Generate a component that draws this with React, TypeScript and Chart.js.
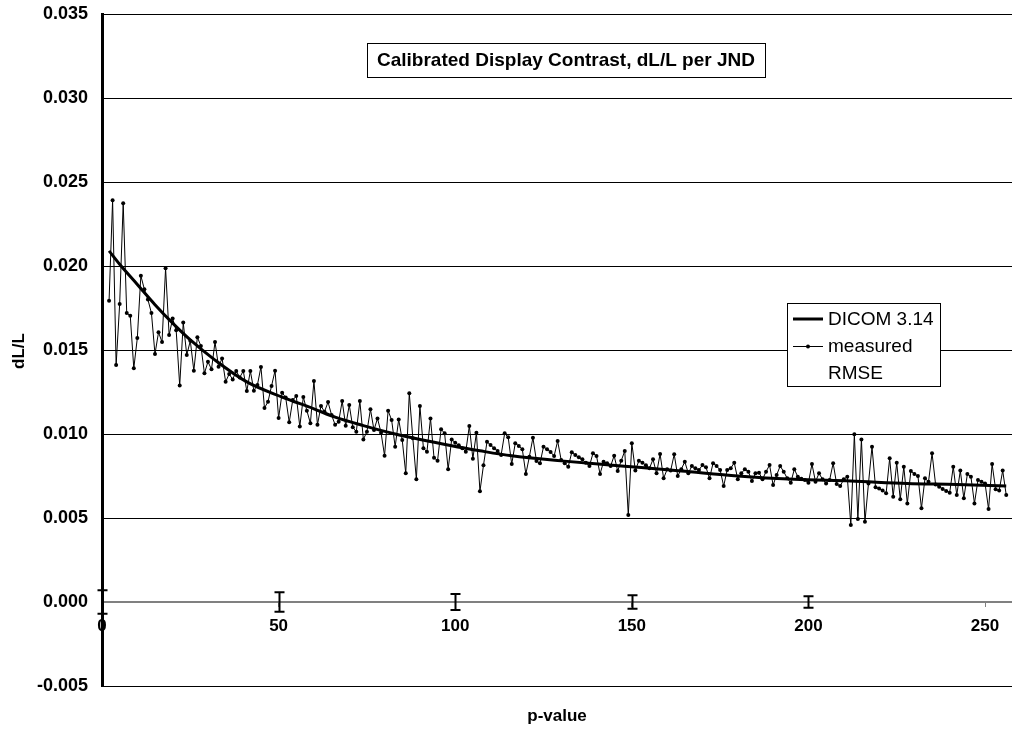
import React, { useEffect, useRef } from "react";
import { Chart, registerables } from "chart.js";

Chart.register(...registerables);

const FONT = "'Liberation Sans', Arial, Helvetica, sans-serif";

const titleText = "Calibrated Display Contrast, dL/L per JND";
const xTitle = "p-value";
const yTitle = "dL/L";
const seriesNames = ["DICOM 3.14", "measured", "RMSE"];

const xTickValues = [0, 50, 100, 150, 200, 250];
const yTickValues = [-0.005, 0, 0.005, 0.01, 0.015, 0.02, 0.025, 0.03, 0.035];

// measured dL/L, one value per p-value starting at p = 2
const measuredStartP = 2;
const measuredValues = [
  0.01793, 0.02391, 0.01411, 0.01774, 0.02373, 0.0172, 0.01704, 0.01391, 0.01571, 0.01942,
  0.01861, 0.018, 0.0172, 0.01476, 0.01605, 0.01548, 0.01986, 0.01589, 0.01687, 0.01617,
  0.01288, 0.01663, 0.0147, 0.01555, 0.01377, 0.01576, 0.01524, 0.01361, 0.0143, 0.01385,
  0.01548, 0.014,
  0.0145, 0.01311, 0.01357, 0.01325, 0.01375, 0.01337, 0.01375, 0.01256,
  0.01375, 0.01258, 0.01292, 0.01399, 0.01155, 0.01192, 0.01286, 0.01377, 0.01095, 0.01246,
  0.01218, 0.0107, 0.01202, 0.01226, 0.01044, 0.0122, 0.01139, 0.01064, 0.01315, 0.01055,
  0.01167, 0.01133, 0.0119, 0.01113, 0.01055,
  0.01073, 0.01196, 0.01049, 0.01173, 0.0104, 0.01014, 0.01196, 0.00968, 0.01014, 0.01147,
  0.01024, 0.01093, 0.01008, 0.00871, 0.01139, 0.01083, 0.00924, 0.01087, 0.00964, 0.00766,
  0.01242, 0.00974, 0.0073, 0.01167, 0.00915, 0.00895, 0.01093, 0.00859, 0.00841, 0.01028,
  0.01004, 0.0079,
  0.00968, 0.00948, 0.00933, 0.00915, 0.00895, 0.01048, 0.00853, 0.01008, 0.00659, 0.00814,
  0.00954, 0.00934, 0.00915, 0.00899, 0.00875, 0.01004, 0.0098, 0.00821, 0.00945, 0.00929,
  0.00909, 0.00762, 0.00865, 0.00978, 0.00839, 0.00826, 0.00924, 0.00909, 0.00893, 0.00869,
  0.00958, 0.00845, 0.00826,
  0.00805, 0.00891, 0.00875, 0.00861, 0.00849, 0.00829, 0.00809, 0.00885, 0.00869, 0.00762,
  0.00835, 0.00826, 0.00809, 0.00871, 0.0078, 0.00841, 0.00899, 0.00518, 0.00945, 0.00782,
  0.00841, 0.00829, 0.00814, 0.00796, 0.00849, 0.00766, 0.00881, 0.00736, 0.0079, 0.00782,
  0.00879, 0.0075,
  0.0079, 0.00835, 0.00766, 0.00809, 0.00796, 0.00786, 0.00815, 0.00802, 0.00736, 0.00826,
  0.00809, 0.00786, 0.0069, 0.00786, 0.00796, 0.00829, 0.0073, 0.00766, 0.0079, 0.00776,
  0.0072, 0.00766, 0.0077, 0.0073, 0.00776, 0.00815, 0.00696, 0.00756, 0.00809, 0.00776,
  0.00736, 0.0071, 0.0079,
  0.00746, 0.00734, 0.00726, 0.0071, 0.00821, 0.00716, 0.00766, 0.0073, 0.00706, 0.00726,
  0.00826, 0.00702, 0.0069, 0.0073, 0.00746, 0.00458, 0.00998, 0.00494, 0.00968, 0.00478,
  0.00706, 0.00924, 0.00683, 0.00675, 0.00663, 0.00647, 0.00855, 0.00627, 0.00829, 0.00611,
  0.00805, 0.00587, 0.0078,
  0.00762, 0.0075, 0.00558, 0.00736, 0.00716, 0.00885, 0.007, 0.00686, 0.00673, 0.00661,
  0.00651, 0.00805, 0.00637, 0.00782, 0.00617, 0.00762, 0.00746, 0.00587, 0.00726, 0.00716,
  0.00706, 0.00553, 0.00821, 0.00671, 0.00663, 0.00782, 0.00637,
];

// DICOM 3.14 reference curve, read at selected p-values
const dicomP = [2, 5, 10, 15, 20, 25, 32, 41, 51, 60, 66, 74, 83, 99, 107, 116, 130, 147, 164, 180, 196, 212, 228, 242, 256];
const dicomValues = [
  0.0209, 0.0201, 0.0189, 0.0177, 0.0166, 0.0156, 0.0144, 0.0131, 0.0122, 0.0115,
  0.011, 0.0105, 0.01, 0.0093, 0.009, 0.0087, 0.0084, 0.0081, 0.0078, 0.0075,
  0.0073, 0.0072, 0.00706, 0.007, 0.0069,
];

// RMSE error bars, centred on zero
const rmseP = [0, 50, 100, 150, 200];
const rmseValues = [0.0007, 0.00058, 0.00048, 0.0004, 0.00034];

const CANVAS_W = 1018;
const CANVAS_H = 732;

const overlayPlugin = {
  id: "overlay",
  afterDraw(chart: any) {
    const { ctx, scales } = chart;
    const xs = scales.x;
    const ys = scales.y;
    ctx.save();

    // RMSE error bars
    ctx.strokeStyle = "#000";
    ctx.lineWidth = 2;
    rmseP.forEach((p, i) => {
      const px = Math.round(xs.getPixelForValue(p)) + 0.5;
      const t = ys.getPixelForValue(rmseValues[i]);
      const b = ys.getPixelForValue(-rmseValues[i]);
      ctx.beginPath();
      ctx.moveTo(px, t);
      ctx.lineTo(px, b);
      ctx.moveTo(px - 5, t);
      ctx.lineTo(px + 5, t);
      ctx.moveTo(px - 5, b);
      ctx.lineTo(px + 5, b);
      ctx.stroke();
    });

    // Title box
    ctx.font = `bold 19px ${FONT}`;
    const tw = ctx.measureText(titleText).width;
    const tcx = 566;
    const tcy = 60;
    const bw = tw + 20;
    const bh = 34;
    ctx.fillStyle = "#fff";
    ctx.fillRect(tcx - bw / 2, tcy - bh / 2, bw, bh);
    ctx.lineWidth = 1;
    ctx.strokeStyle = "#000";
    ctx.strokeRect(Math.round(tcx - bw / 2) + 0.5, tcy - bh / 2 + 0.5, Math.round(bw), bh);
    ctx.fillStyle = "#000";
    ctx.textAlign = "center";
    ctx.textBaseline = "middle";
    ctx.fillText(titleText, tcx, tcy + 1);

    // Legend box
    const lx = 787.5;
    const ly = 303.5;
    const lw = 153;
    const lh = 83;
    ctx.fillStyle = "#fff";
    ctx.fillRect(lx, ly, lw, lh);
    ctx.strokeStyle = "#000";
    ctx.lineWidth = 1;
    ctx.strokeRect(lx, ly, lw, lh);
    ctx.font = `19px ${FONT}`;
    ctx.textAlign = "left";
    ctx.textBaseline = "middle";
    ctx.fillStyle = "#000";
    const rows = [319, 346, 373];
    ctx.lineWidth = 3;
    ctx.beginPath();
    ctx.moveTo(793, rows[0]);
    ctx.lineTo(823, rows[0]);
    ctx.stroke();
    ctx.lineWidth = 1;
    ctx.beginPath();
    ctx.moveTo(793, rows[1] + 0.5);
    ctx.lineTo(823, rows[1] + 0.5);
    ctx.stroke();
    ctx.beginPath();
    ctx.arc(808, rows[1] + 0.5, 2, 0, Math.PI * 2);
    ctx.fill();
    seriesNames.forEach((n, i) => {
      ctx.fillText(n, 828, rows[i] + 1);
    });

    // Axis titles
    ctx.font = `bold 17px ${FONT}`;
    ctx.textAlign = "center";
    ctx.textBaseline = "middle";
    ctx.fillText(xTitle, 557, 716);
    ctx.save();
    ctx.translate(19, 351);
    ctx.rotate(-Math.PI / 2);
    ctx.fillText(yTitle, 0, 0);
    ctx.restore();

    ctx.restore();
  },
};

export default function App() {
  const canvasRef = useRef<HTMLCanvasElement | null>(null);

  useEffect(() => {
    document.body.style.margin = "0";
    const canvas = canvasRef.current;
    if (!canvas) return;

    const measuredData = measuredValues.map((v, i) => ({ x: measuredStartP + i, y: v }));
    const dicomData = dicomP.map((p, i) => ({ x: p, y: dicomValues[i] }));
    const rmseData = rmseP.map((p) => ({ x: p, y: 0 }));

    const chart = new Chart(canvas, {
      type: "scatter",
      data: {
        datasets: [
          {
            label: seriesNames[0],
            data: dicomData,
            showLine: true,
            borderColor: "#000",
            borderWidth: 3,
            pointRadius: 0,
            cubicInterpolationMode: "monotone",
          },
          {
            label: seriesNames[1],
            data: measuredData,
            showLine: true,
            borderColor: "#000",
            borderWidth: 1,
            pointRadius: 2,
            pointBorderWidth: 0,
            pointBackgroundColor: "#000",
          },
          {
            label: seriesNames[2],
            data: rmseData,
            showLine: false,
            pointRadius: 0,
            borderWidth: 0,
          },
        ],
      },
      options: {
        responsive: false,
        animation: false,
        devicePixelRatio: 1,
        layout: { padding: { left: 0, top: 14, right: 0, bottom: 46 } },
        plugins: {
          legend: { display: false },
          tooltip: { enabled: false },
          title: { display: false },
        },
        scales: {
          x: {
            type: "linear",
            position: { y: 0 } as any,
            min: 0,
            max: 258.2,
            afterFit: (s: any) => {
              s.height = 0;
              s.paddingLeft = 0;
              s.paddingRight = 0;
            },
            afterBuildTicks: (s: any) => {
              s.ticks = xTickValues.map((v) => ({ value: v }));
            },
            ticks: {
              color: "#000",
              font: { family: FONT, size: 17, weight: "bold" },
              padding: 10,
              maxRotation: 0,
              callback: (v: any) => String(v),
            },
            grid: {
              display: true,
              drawOnChartArea: false,
              drawTicks: true,
              tickLength: 4,
              color: "#808080",
              lineWidth: 1,
            },
            border: { display: true, color: "#808080", width: 2, z: 1 },
          },
          y: {
            type: "linear",
            position: "left",
            min: -0.005,
            max: 0.035,
            afterFit: (s: any) => {
              s.width = 102;
              s.paddingTop = 0;
              s.paddingBottom = 0;
            },
            afterBuildTicks: (s: any) => {
              s.ticks = yTickValues.map((v) => ({ value: v }));
            },
            ticks: {
              color: "#000",
              font: { family: FONT, size: 18, weight: "bold" },
              padding: 14,
              callback: (v: any) => Number(v).toFixed(3),
            },
            grid: {
              color: "#000",
              lineWidth: 1,
              drawTicks: false,
            },
            border: { display: true, color: "#000", width: 3, z: 1 },
          },
        },
      },
      plugins: [overlayPlugin],
    });

    return () => chart.destroy();
  }, []);

  return (
    <div style={{ position: "absolute", left: 0, top: 0, width: 1012, height: 732, overflow: "hidden", background: "#fff" }}>
      <canvas ref={canvasRef} width={CANVAS_W} height={CANVAS_H} style={{ display: "block" }} />
    </div>
  );
}
